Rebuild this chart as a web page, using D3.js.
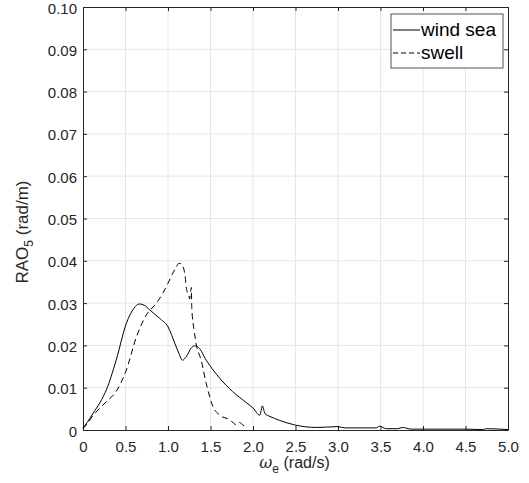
<!DOCTYPE html>
<html>
<head>
<meta charset="utf-8">
<script src="https://cdn.jsdelivr.net/npm/d3@7"></script>
<style>
  body { margin: 0; background: #fff; }
  svg { display: block; font-family: "Liberation Sans", Arial, sans-serif; }
</style>
</head>
<body>
<div id="chart"></div>
<script>
// wind sea RAO (solid)
var windX = [0, 0.05, 0.12, 0.2, 0.275, 0.39, 0.51, 0.6, 0.66, 0.72, 0.785, 0.9, 1.0, 1.08, 1.13, 1.17, 1.22, 1.27, 1.31, 1.36, 1.45, 1.61, 1.76, 1.92, 2.0, 2.08, 2.11, 2.14, 2.2, 2.31, 2.49, 2.75, 3.0, 3.08, 3.3, 3.45, 3.49, 3.57, 3.7, 3.76, 3.86, 4.0, 4.5, 4.7, 4.75, 5.0];
var windY = [0.0005, 0.0018, 0.004, 0.0065, 0.0095, 0.0165, 0.0252, 0.0288, 0.0298, 0.0295, 0.0284, 0.0264, 0.0244, 0.0205, 0.018, 0.0165, 0.0175, 0.0193, 0.0199, 0.0195, 0.0165, 0.0122, 0.0091, 0.0065, 0.0052, 0.0035, 0.0057, 0.0039, 0.0032, 0.0023, 0.0012, 0.0006, 0.0008, 0.0005, 0.0005, 0.0005, 0.0009, 0.0003, 0.0003, 0.0006, 0.0002, 0.0002, 0.0002, 0.0001, 0.0003, 0.0001];

// swell RAO (dashed)
var swellX = [0, 0.05, 0.12, 0.2, 0.275, 0.39, 0.51, 0.63, 0.745, 0.86, 0.93, 1.0, 1.05, 1.09, 1.13, 1.16, 1.2, 1.216, 1.243, 1.255, 1.265, 1.275, 1.28, 1.31, 1.33, 1.39, 1.45, 1.53, 1.61, 1.73, 1.80, 1.84, 1.88, 1.92];
var swellY = [0.0003, 0.0015, 0.0035, 0.0052, 0.0067, 0.0091, 0.0142, 0.0221, 0.0272, 0.0299, 0.032, 0.0347, 0.0368, 0.0383, 0.0394, 0.0392, 0.0366, 0.0335, 0.0319, 0.0310, 0.0325, 0.0337, 0.0288, 0.0232, 0.0205, 0.0165, 0.011, 0.0055, 0.0035, 0.0024, 0.0013, 0.0018, 0.0012, 0.0007];

var xTicks = [0, 0.5, 1, 1.5, 2, 2.5, 3, 3.5, 4, 4.5, 5];
var yTicks = [0, 0.01, 0.02, 0.03, 0.04, 0.05, 0.06, 0.07, 0.08, 0.09, 0.1];
var legendLabels = ["wind sea", "swell"];

var width = 529, height = 483;
var margin = {top: 7, right: 21, bottom: 53, left: 83};
var innerW = width - margin.left - margin.right,
    innerH = height - margin.top - margin.bottom;
var axisColor = "#262626";

var x = d3.scaleLinear().domain([0, 5]).range([0, innerW]);
var y = d3.scaleLinear().domain([0, 0.1]).range([innerH, 0]);

var svg = d3.select("#chart").append("svg")
    .attr("width", width)
    .attr("height", height);

var g = svg.append("g")
    .attr("transform", "translate(" + margin.left + "," + margin.top + ")");

// Grid
g.append("g").selectAll("line").data(xTicks.slice(1, -1)).enter().append("line")
    .attr("x1", function(d) { return x(d); })
    .attr("x2", function(d) { return x(d); })
    .attr("y1", 0).attr("y2", innerH)
    .attr("stroke", "#e6e6e6").attr("stroke-width", 1);
g.append("g").selectAll("line").data(yTicks.slice(1, -1)).enter().append("line")
    .attr("y1", function(d) { return y(d); })
    .attr("y2", function(d) { return y(d); })
    .attr("x1", 0).attr("x2", innerW)
    .attr("stroke", "#e6e6e6").attr("stroke-width", 1);

// Axes (ticks inside, box on all sides)
var fmtX = d3.format(".1f");
var fmtY = function(d) { return d === 0 ? "0" : d3.format(".2f")(d); };

function styleAxis(sel) {
    sel.select(".domain").attr("stroke", axisColor);
    sel.selectAll(".tick line").attr("stroke", axisColor);
    sel.selectAll("text").attr("fill", axisColor).style("font-size", "15px");
}

var xAxis = g.append("g")
    .attr("transform", "translate(0," + innerH + ")")
    .call(d3.axisBottom(x).tickValues(xTicks)
        .tickFormat(function(d) { return d === 0 ? "0" : fmtX(d); })
        .tickSize(-4).tickPadding(11).tickSizeOuter(0));
styleAxis(xAxis);

g.append("g")
    .call(d3.axisTop(x).tickValues(xTicks).tickFormat("").tickSize(-4).tickSizeOuter(0))
    .call(styleAxis);

var yAxis = g.append("g")
    .call(d3.axisLeft(y).tickValues(yTicks).tickFormat(fmtY)
        .tickSize(-4).tickPadding(6).tickSizeOuter(0));
styleAxis(yAxis);
yAxis.selectAll(".tick text").attr("dy", "0.4em");

g.append("g")
    .attr("transform", "translate(" + innerW + ",0)")
    .call(d3.axisRight(y).tickValues(yTicks).tickFormat("").tickSize(-4).tickSizeOuter(0))
    .call(styleAxis);

// Lines
var line = d3.line()
    .x(function(d) { return x(d[0]); })
    .y(function(d) { return y(d[1]); })
    .curve(d3.curveMonotoneX);

var windData = windX.map(function(v, i) { return [v, windY[i]]; });
var swellData = swellX.map(function(v, i) { return [v, swellY[i]]; });

g.append("path").datum(windData)
    .attr("d", line)
    .attr("fill", "none").attr("stroke", "#000").attr("stroke-width", 1);

g.append("path").datum(swellData)
    .attr("d", line)
    .attr("fill", "none").attr("stroke", "#000").attr("stroke-width", 1)
    .attr("stroke-dasharray", "6,4");

// Axis labels
var xl = svg.append("text")
    .attr("x", margin.left + innerW / 2 - 1)
    .attr("y", 468)
    .attr("text-anchor", "middle")
    .attr("fill", axisColor)
    .style("font-size", "16px");
xl.append("tspan").text("ω").style("font-family", "'DejaVu Serif', serif").style("font-style", "italic");
xl.append("tspan").attr("dy", 5).style("font-size", "12px").text("e");
xl.append("tspan").attr("dy", -5).text(" (rad/s)");

var yl = svg.append("text")
    .attr("transform", "translate(28," + 232 + ") rotate(-90)")
    .attr("text-anchor", "middle")
    .attr("fill", axisColor)
    .style("font-size", "17px");
yl.append("tspan").text("RAO");
yl.append("tspan").attr("dy", 5).style("font-size", "12px").text("5");
yl.append("tspan").attr("dy", -5).text(" (rad/m)");

// Legend
var legend = svg.append("g").attr("transform", "translate(391,14)");
legend.append("rect")
    .attr("width", 112).attr("height", 54)
    .attr("fill", "#fff").attr("stroke", axisColor).attr("stroke-width", 0.8);

var rows = legend.selectAll("g.row").data(legendLabels).enter().append("g")
    .attr("class", "row")
    .attr("transform", function(d, i) { return "translate(0," + (16 + i * 23) + ")"; });
rows.append("line")
    .attr("x1", 2).attr("x2", 29).attr("y1", 0).attr("y2", 0)
    .attr("stroke", "#000").attr("stroke-width", 1)
    .attr("stroke-dasharray", function(d, i) { return i === 1 ? "5,3" : null; });
rows.append("text")
    .attr("x", 30).attr("y", 6)
    .attr("fill", "#000")
    .style("font-size", "19px")
    .text(function(d) { return d; });
</script>
</body>
</html>
